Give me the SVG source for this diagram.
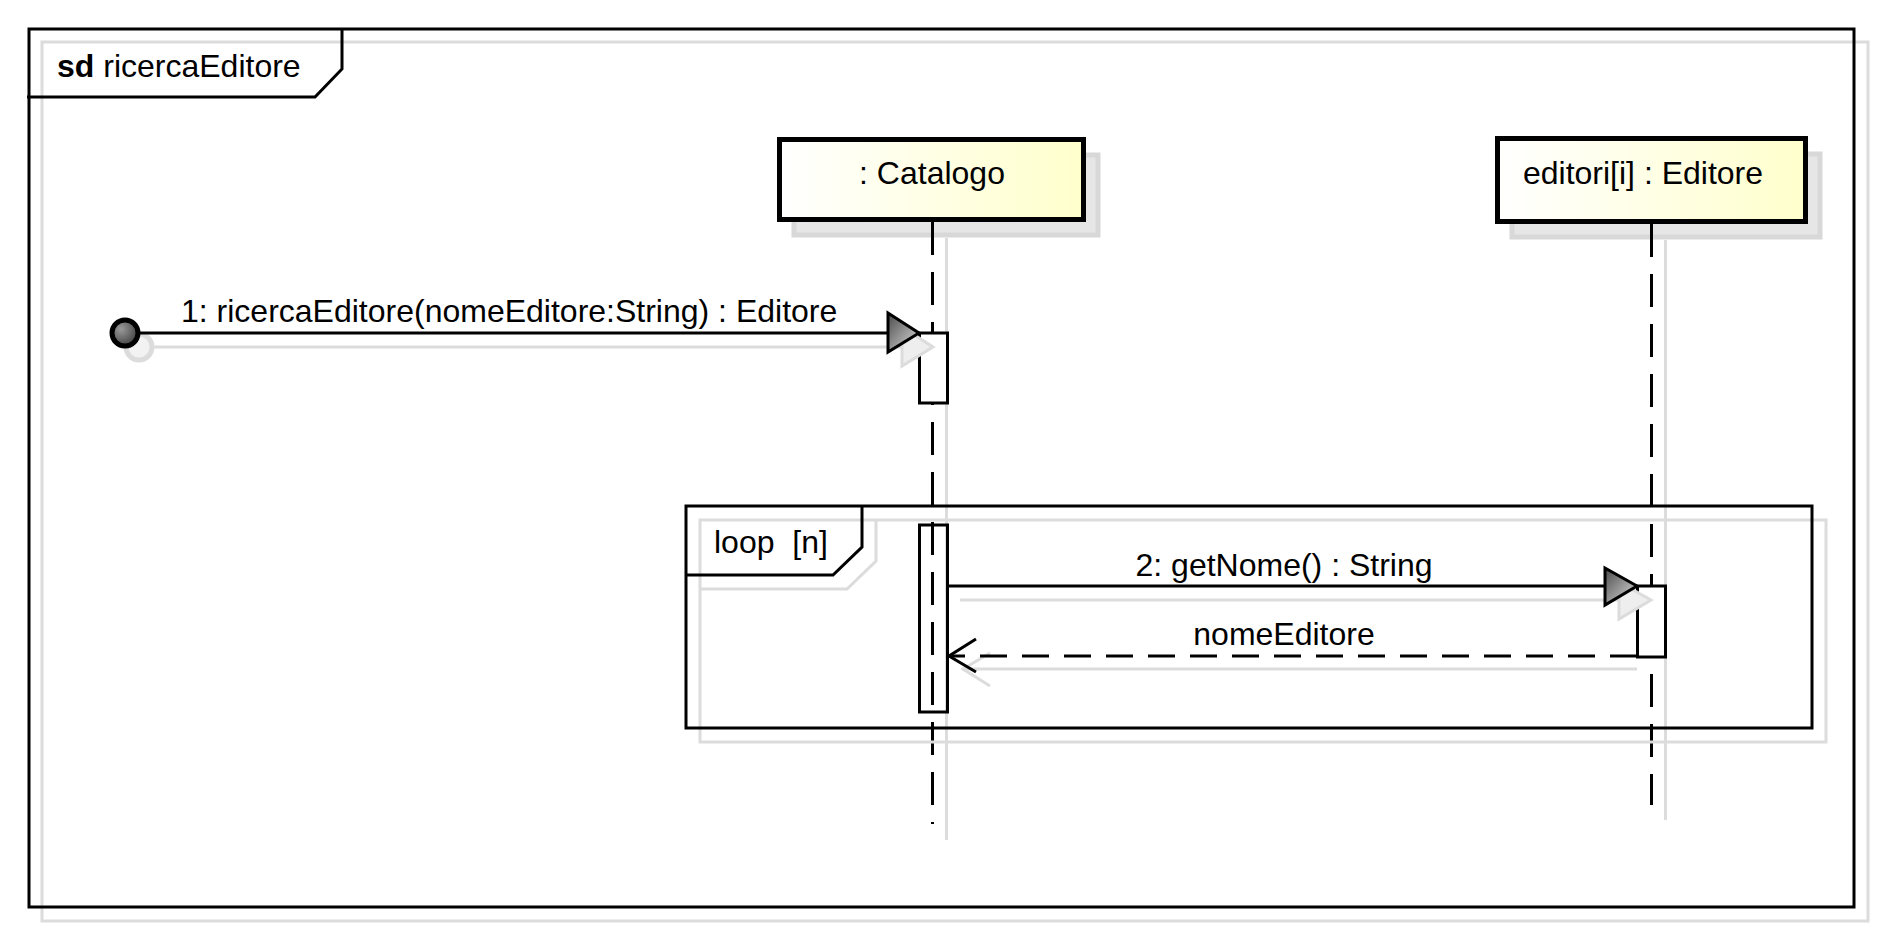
<svg xmlns="http://www.w3.org/2000/svg" width="1883" height="936" viewBox="0 0 1883 936">
<defs>
<linearGradient id="boxFill" x1="0" y1="0" x2="1" y2="0">
<stop offset="0" stop-color="#ffffff"/>
<stop offset="1" stop-color="#ffffcc"/>
</linearGradient>
<linearGradient id="headFill" x1="0" y1="0" x2="1" y2="1">
<stop offset="0" stop-color="#4a4a4a"/>
<stop offset="1" stop-color="#e0e0e0"/>
</linearGradient>
<radialGradient id="dotFill" cx="0.35" cy="0.35" r="0.75">
<stop offset="0" stop-color="#9a9a9a"/>
<stop offset="1" stop-color="#3a3a3a"/>
</radialGradient>
<style>
text { font-family: "Liberation Sans", Arial, sans-serif; font-size: 32px; fill: #000; }
.frame { fill: none; stroke: #000; stroke-width: 3; }
.shadow { fill: none; stroke: #dcdcdc; stroke-width: 3; }
.boxshadow { fill: #e6e6e6; stroke: #d8d8d8; stroke-width: 5; }
.box { fill: url(#boxFill); stroke: #000; stroke-width: 5; }
.life { stroke: #000; stroke-width: 3; stroke-dasharray: 33 17; fill: none; }
.lifeshadow { stroke: #dcdcdc; stroke-width: 3; fill: none; }
.bar { fill: #fff; stroke: #000; stroke-width: 3; }
.msg { stroke: #000; stroke-width: 3; fill: none; }
.ret { stroke: #000; stroke-width: 3; fill: none; stroke-dasharray: 27 15; }
.head { fill: url(#headFill); stroke: #000; stroke-width: 3; stroke-linejoin: miter; }
.headshadow { fill: #eeeeee; stroke: #dcdcdc; stroke-width: 3; }
</style>
</defs>
<rect width="1883" height="936" fill="#fff"/>

<g id="frame-sd">
<rect class="shadow" x="42" y="42" width="1826" height="879"/>
<rect class="frame" x="29" y="29" width="1825" height="878"/>
<path class="frame" d="M27,97 L315,97 L342,69 L342,29"/>
<text x="57" y="77"><tspan font-weight="bold">sd</tspan> ricercaEditore</text>
</g>

<g id="shadows">
<line class="lifeshadow" x1="946.5" y1="238" x2="946.5" y2="840"/>
<line class="lifeshadow" x1="1665.5" y1="240" x2="1665.5" y2="820"/>
</g>

<g id="lifeline-catalogo">
<rect class="boxshadow" x="794" y="155" width="304" height="80"/>
<rect class="box" x="779.5" y="139.5" width="304" height="80"/>
<text x="932" y="184" text-anchor="middle">: Catalogo</text>
<line class="life" x1="932.5" y1="222" x2="932.5" y2="824"/>
</g>

<g id="lifeline-editore">
<rect class="boxshadow" x="1512" y="154" width="308" height="83"/>
<rect class="box" x="1497.5" y="138.5" width="308" height="83"/>
<text x="1643" y="184" text-anchor="middle">editori[i] : Editore</text>
<line class="life" x1="1651.5" y1="224" x2="1651.5" y2="805"/>
</g>

<g id="loop-fragment">
<rect class="shadow" x="700" y="520" width="1126" height="222"/>
<path class="shadow" d="M700,589 L847,589 L876,561 L876,520"/>
<rect class="frame" x="686" y="506" width="1126" height="222"/>
<path class="frame" d="M686,575 L833,575 L862,547 L862,506"/>
<text x="714" y="553" style="white-space:pre" xml:space="preserve">loop  [n]</text>
</g>

<g id="activations">
<rect class="bar" x="919.5" y="333" width="28" height="70"/>
<rect x="919.5" y="525" width="28" height="187" fill="none" stroke="#000" stroke-width="3"/>
<rect class="bar" x="1637.5" y="586" width="28" height="71"/>
</g>

<g id="connectors">
<g id="msg1">
<circle cx="139" cy="347" r="13" fill="#f2f2f2" stroke="#dcdcdc" stroke-width="5"/>
<line class="shadow" x1="152" y1="347" x2="904" y2="347"/>
<path class="headshadow" d="M902,327 L933,347 L902,366 Z"/>
<line class="msg" x1="138" y1="333" x2="890" y2="333"/>
<path class="head" d="M888,313 L919,333 L888,352 Z"/>
<circle cx="125" cy="333" r="13" fill="url(#dotFill)" stroke="#000" stroke-width="5"/>
<text x="181" y="322">1: ricercaEditore(nomeEditore:String) : Editore</text>
</g>
<g id="msg2">
<line class="shadow" x1="960" y1="600" x2="1620" y2="600"/>
<path class="headshadow" d="M1619,582 L1651,600 L1619,619 Z"/>
<line class="msg" x1="948" y1="586" x2="1607" y2="586"/>
<path class="head" d="M1605,568 L1637,586 L1605,605 Z"/>
<text x="1284" y="576" text-anchor="middle">2: getNome() : String</text>
</g>
<g id="ret">
<line class="shadow" x1="1637" y1="669" x2="962" y2="669"/>
<path class="shadow" d="M990,653 L963,669 L990,686"/>
<line class="ret" x1="1637" y1="656" x2="949" y2="656"/>
<path class="msg" d="M976,639 L949,656 L976,672"/>
<text x="1284" y="645" text-anchor="middle">nomeEditore</text>
</g>
</g>
</svg>
